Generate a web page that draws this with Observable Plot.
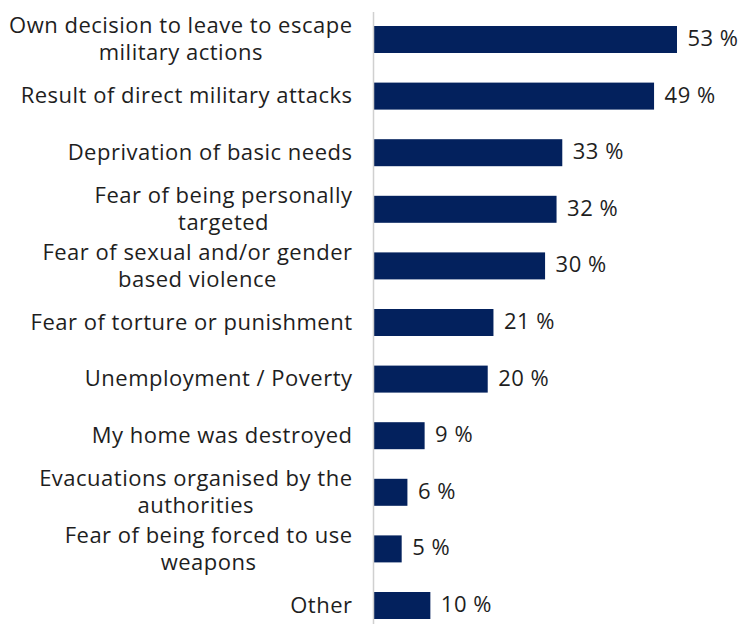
<!DOCTYPE html>
<html><head><meta charset="utf-8">
<script src="https://cdn.jsdelivr.net/npm/d3@7"></script>
<script src="https://cdn.jsdelivr.net/npm/@observablehq/plot@0.6"></script>
<style>body{margin:0;background:#fff;font-family:"Open Sans",sans-serif}</style>
</head><body><div id="chart"></div>
<script>
const categories = [
  "Own decision to leave to escape military actions",
  "Result of direct military attacks",
  "Deprivation of basic needs",
  "Fear of being personally targeted",
  "Fear of sexual and/or gender based violence",
  "Fear of torture or punishment",
  "Unemployment / Poverty",
  "My home was destroyed",
  "Evacuations organised by the authorities",
  "Fear of being forced to use weapons",
  "Other"
];
const labels = [
  "Own decision to leave to escape\nmilitary actions",
  "Result of direct military attacks",
  "Deprivation of basic needs",
  "Fear of being personally\ntargeted",
  "Fear of sexual and/or gender\nbased violence",
  "Fear of torture or punishment",
  "Unemployment / Poverty",
  "My home was destroyed",
  "Evacuations organised by the\nauthorities",
  "Fear of being forced to use\nweapons",
  "Other"
];
const values = [53, 49, 33, 32, 30, 21, 20, 9, 6, 5, 10];

const data = categories.map((c, i) => ({category: c, label: labels[i], value: values[i]}));
const labelOf = new Map(data.map(d => [d.category, d.label]));

const chart = Plot.plot({
  width: 741,
  height: 624,
  marginLeft: 373,
  marginRight: 0,
  marginTop: 12,
  marginBottom: 0,
  style: {fontFamily: "'Open Sans', sans-serif", fontSize: "22px", letterSpacing: "0.5px", color: "#1e1e1e", background: "#fff"},
  x: {domain: [0, 53], range: [373, 677], axis: null},
  y: {domain: categories, range: [26, 619], paddingInner: 0.523, paddingOuter: 0, round: false, label: null},
  marks: [
    Plot.barX(data, {y: "category", x: "value", fill: "#03215d"}),
    Plot.ruleX([0], {stroke: "#d0d0d0", strokeWidth: 1.5}),
    Plot.text(data, {y: "category", x: "value", text: d => d.value + " %", textAnchor: "start", dx: 10, dy: -1, fill: "#1e1e1e", fontSize: 22}),
    Plot.axisY({tickSize: 0, tickPadding: 21, dy: -2, tickFormat: d => labelOf.get(d), lineHeight: 1.23, fontSize: 22, fill: "#1e1e1e", label: null})
  ]
});
document.getElementById("chart").appendChild(chart);

// center the lines of each multi-line label within its right-aligned block
chart.querySelectorAll('g[aria-label="y-axis tick label"] text').forEach(t => {
  const spans = t.querySelectorAll("tspan");
  if (spans.length < 2) return;
  let w = 0;
  spans.forEach(s => { w = Math.max(w, s.getComputedTextLength()); });
  t.setAttribute("text-anchor", "middle");
  spans.forEach(s => s.setAttribute("x", -w / 2));
});
</script>
</body></html>
